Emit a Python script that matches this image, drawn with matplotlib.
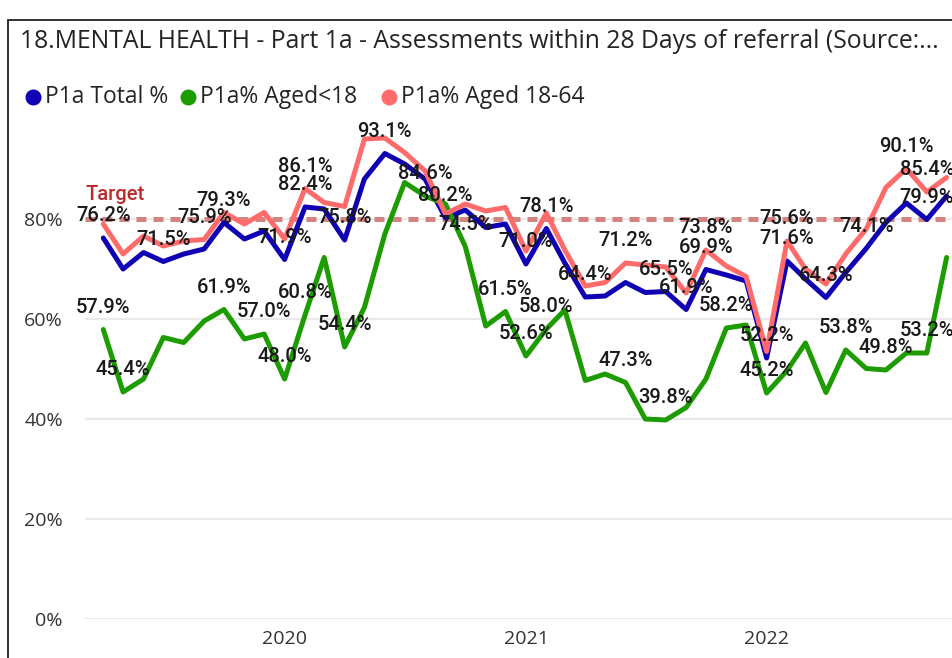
import matplotlib
matplotlib.use('Agg')
import matplotlib.pyplot as plt
import matplotlib.dates as mdates
from matplotlib.lines import Line2D
from matplotlib.patches import Rectangle
import pandas as pd

# ---------------- data ----------------
months = pd.date_range('2019-04-01', periods=43, freq='MS')

total = [76.2, 70.0, 73.3, 71.5, 73.0, 74.0, 79.3, 76.0, 77.6, 71.9,
         82.4, 82.0, 75.8, 88.0, 93.1, 91.0, 88.0, 80.2, 81.8, 78.3,
         79.0, 71.0, 78.1, 71.2, 64.4, 64.6, 67.3, 65.3, 65.5, 61.9,
         69.9, 68.8, 67.6, 52.2, 71.6, 68.0, 64.3, 69.3, 74.1, 79.3,
         83.2, 79.9, 84.6]

aged_u18 = [57.9, 45.4, 48.0, 56.3, 55.3, 59.6, 61.9, 56.0, 57.0, 48.0,
            60.8, 72.3, 54.4, 62.3, 77.0, 87.3, 84.6, 83.0, 74.5, 58.6,
            61.5, 52.6, 58.0, 61.8, 47.7, 49.0, 47.3, 40.0, 39.8, 42.3,
            48.0, 58.2, 58.8, 45.2, 49.7, 55.2, 45.3, 53.8, 50.1, 49.8,
            53.2, 53.2, 72.3]

aged_18_64 = [79.0, 73.0, 76.6, 74.6, 75.6, 75.9, 81.3, 79.0, 81.3, 76.0,
              86.1, 83.3, 82.5, 96.0, 96.2, 93.3, 89.6, 81.0, 83.0, 81.6,
              82.3, 73.6, 81.2, 73.8, 66.6, 67.3, 71.2, 70.8, 70.4, 65.2,
              73.8, 70.6, 68.5, 53.5, 75.6, 70.0, 67.0, 73.0, 78.0, 86.3,
              90.1, 85.4, 88.3]

target = 80

# indices of points that carry a visible data label
labels_total = [0, 3, 6, 9, 10, 12, 14, 17, 21, 22, 24, 28, 29, 30, 33, 34, 36, 38, 41]
labels_u18 = [0, 1, 6, 8, 9, 10, 12, 16, 18, 20, 21, 22, 26, 28, 31, 33, 37, 39, 41]
labels_18_64 = [5, 10, 26, 30, 34, 40, 41]

series_names = ['P1a Total %', 'P1a% Aged<18', 'P1a% Aged 18-64']
year_ticks = ['2020', '2021', '2022']
y_ticks = [0, 20, 40, 60, 80]
title = '18.MENTAL HEALTH - Part 1a - Assessments within 28 Days of referral (Source:...'

# ---------------- styling ----------------
C_BLUE = '#1000B4'
C_GREEN = '#1C9C00'
C_RED = '#FF6B6B'
C_TARGET = '#D38380'
UI_FONT = 'Open Sans'
LBL_FONT = 'Roboto'

W, H = 952, 658
fig = plt.figure(figsize=(W / 100, H / 100), dpi=100)

ax_left, ax_right, ax_bottom, ax_top = 85, 952, 619, 134
ax = fig.add_axes([ax_left / W, (H - ax_bottom) / H,
                   (ax_right - ax_left) / W, (ax_bottom - ax_top) / H])

# x limits derived so that Apr-2019 sits at ~103px and Oct-2022 at ~947px
d0 = mdates.date2num(months[0])
d1 = mdates.date2num(months[-1])
ppd = (946.6 - 103.3) / (d1 - d0)
ax.set_xlim(d0 - (103.3 - ax_left) / ppd, d1 + (ax_right - 946.6) / ppd)
ax.set_ylim(0, (ax_bottom - ax_top) / 5.0)

for s in ax.spines.values():
    s.set_visible(False)

ax.set_yticks(y_ticks)
ax.set_yticklabels([f'{v}%' for v in y_ticks])
ax.yaxis.grid(True, color='#E9E9E9', lw=1.6)
ax.set_axisbelow(True)
ax.set_xticks([mdates.date2num(pd.Timestamp(f'{y}-01-01')) for y in year_ticks])
ax.set_xticklabels(year_ticks)
ax.tick_params(axis='both', length=0, labelsize=14, labelcolor='#333333')
ax.tick_params(axis='y', pad=16)
ax.tick_params(axis='x', pad=8)
for lbl in ax.get_xticklabels() + ax.get_yticklabels():
    lbl.set_fontfamily(UI_FONT)

x = mdates.date2num(months)

# target line
ax.axhline(target, color=C_TARGET, lw=3.6, ls=(0, (2.0, 1.4)), zorder=2)
ax.annotate('Target', xy=(0, target), xycoords=('axes fraction', 'data'),
            xytext=(0, 11), textcoords='offset points', ha='left', va='bottom',
            fontsize=14.5, family=LBL_FONT, fontweight='medium',
            color='#BB2A2A', zorder=6)

series = [(total, C_BLUE, labels_total),
          (aged_u18, C_GREEN, labels_u18),
          (aged_18_64, C_RED, labels_18_64)]
for z, (vals, col, lab_idx) in enumerate(series):
    ax.plot(x, vals, color=col, lw=3.6, solid_joinstyle='round',
            solid_capstyle='round', zorder=3 + z * 0.1, clip_on=False)

for vals, col, lab_idx in series:
    for i in lab_idx:
        ax.annotate(f'{vals[i]:.1f}%', xy=(x[i], vals[i]), xytext=(0, 16),
                    textcoords='offset points', ha='center', va='center',
                    fontsize=14.5, family=LBL_FONT, fontweight='medium',
                    color='#1A1A1A', zorder=7, annotation_clip=False)

# frame of the visual
fig.add_artist(Rectangle((8 / W, -0.1), 2.0, (H - 20) / H + 0.1,
                         transform=fig.transFigure, fill=False,
                         edgecolor='#222222', lw=1.3))

# title
fig.text(20 / W, 1 - 41.5 / H, title, ha='left', va='center',
         fontsize=17.8, family=UI_FONT, color='#252423')

# legend
leg_cols = [C_BLUE, C_GREEN, C_RED]
leg_dot_x = [33, 188, 389]
for nm, col, dx in zip(series_names, leg_cols, leg_dot_x):
    fig.add_artist(Line2D([dx / W], [1 - 97 / H], marker='o', markersize=10.5,
                          color=col, transform=fig.transFigure, lw=0))
    fig.text((dx + 12) / W, 1 - 97 / H, nm, ha='left', va='center',
             fontsize=16.5, family=UI_FONT, color='#252423')

fig.savefig('out.png', dpi=100)
